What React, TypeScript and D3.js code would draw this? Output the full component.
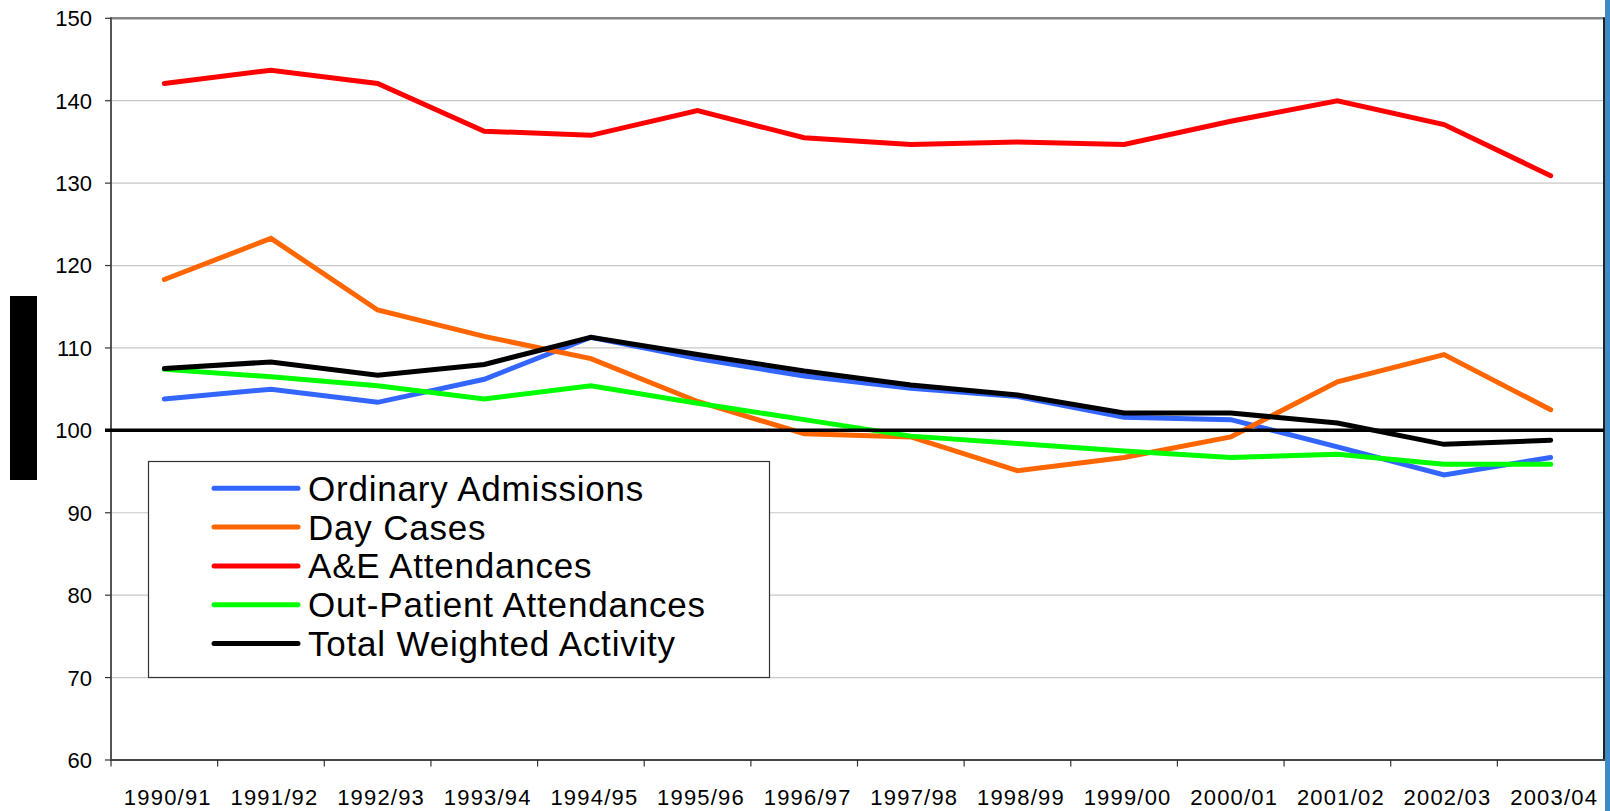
import React from "react";
import * as d3 from "d3";

const categories = ["1990/91","1991/92","1992/93","1993/94","1994/95","1995/96","1996/97","1997/98","1998/99","1999/00","2000/01","2001/02","2002/03","2003/04"];
const yTicks = [60,70,80,90,100,110,120,130,140,150];

const ordinaryAdmissions = [103.8,105.0,103.4,106.2,111.3,108.7,106.6,105.1,104.1,101.6,101.3,98.0,94.6,96.7];
const dayCases = [118.3,123.3,114.6,111.4,108.7,103.5,99.6,99.2,95.1,96.7,99.2,105.9,109.2,102.5];
const aeAttendances = [142.1,143.7,142.1,136.3,135.8,138.8,135.5,134.7,135.0,134.7,137.5,140.0,137.1,130.9];
const outPatient = [107.4,106.5,105.4,103.8,105.4,103.3,101.3,99.3,98.4,97.5,96.7,97.1,95.9,95.9];
const totalWeighted = [107.5,108.3,106.7,108.0,111.3,109.2,107.2,105.5,104.3,102.1,102.1,100.9,98.3,98.8];

const seriesNames = ["Ordinary Admissions","Day Cases","A&E Attendances","Out-Patient Attendances","Total Weighted Activity"];
const seriesColors = ["#3366FF","#FF6600","#FF0000","#00FF00","#000000"];
const seriesValues = [ordinaryAdmissions, dayCases, aeAttendances, outPatient, totalWeighted];
const drawOrder = [0,1,2,3,4];

export default function App() {
  const left = 111, right = 1604, top = 18.3, bottom = 760;
  const x = d3.scaleBand<string>().domain(categories).range([left, right]).padding(0);
  const y = d3.scaleLinear().domain([60, 150]).range([bottom, top]);
  const cx = (c: string) => (x(c) as number) + x.bandwidth() / 2;
  const line = d3.line<number>().x((_, i) => cx(categories[i])).y(v => y(v));
  const font = "'Liberation Sans', Arial, sans-serif";

  const legX = 148.5, legY = 461.5, legW = 621, legH = 216;
  const rowY0 = 488.3, rowStep = 38.8;

  return (
    <svg width={1610} height={811} style={{ position: "absolute", left: 0, top: 0, background: "#fff" }}>
      <rect x={0} y={0} width={1610} height={811} fill="#fff" />
      <rect x={10} y={296} width={27} height={184} fill="#000" />
      <rect x={1605} y={0} width={5} height={811} fill="#3d8ac9" />

      {yTicks.filter(t => t !== 60 && t !== 100 && t !== 150).map(t => (
        <line key={t} x1={left} x2={right} y1={y(t)} y2={y(t)} stroke="#c8c8c8" strokeWidth={1.2} />
      ))}
      <line x1={left} x2={right} y1={top} y2={top} stroke="#858585" strokeWidth={2.5} />
      <line x1={right} x2={right} y1={top - 1} y2={bottom} stroke="#222" strokeWidth={2} />

      <line x1={left} x2={left} y1={top - 1} y2={bottom + 1} stroke="#555" strokeWidth={2} />
      {yTicks.map(t => (
        <g key={t}>
          <line x1={105} x2={left} y1={y(t)} y2={y(t)} stroke="#333" strokeWidth={1.2} />
          <text x={92} y={y(t)} dy="0.36em" textAnchor="end" fontFamily={font} fontSize={22} fill="#000">{t}</text>
        </g>
      ))}

      <line x1={left - 1} x2={right + 1} y1={bottom} y2={bottom} stroke="#444" strokeWidth={2} />
      {categories.map((c, i) => (
        <line key={"t" + i} x1={x(c) as number} x2={x(c) as number} y1={bottom} y2={bottom + 6.5} stroke="#333" strokeWidth={1.2} />
      ))}
      {categories.map(c => (
        <text key={c} x={cx(c) + 3.5} y={805} textAnchor="middle" fontFamily={font} fontSize={22} letterSpacing={1.2} fill="#000">{c}</text>
      ))}

      {drawOrder.map(si => (
        <path key={si} d={line(seriesValues[si]) || ""} fill="none" stroke={seriesColors[si]} strokeWidth={5} strokeLinecap="round" strokeLinejoin="miter" />
      ))}

      <line x1={105} x2={right} y1={y(100)} y2={y(100)} stroke="#000" strokeWidth={3.5} />

      <rect x={legX} y={legY} width={legW} height={legH} fill="#fff" stroke="#333" strokeWidth={1.2} />
      {seriesNames.map((n, i) => (
        <g key={n}>
          <line x1={214} x2={298} y1={rowY0 + i * rowStep} y2={rowY0 + i * rowStep} stroke={seriesColors[i]} strokeWidth={5} strokeLinecap="round" />
          <text x={308} y={rowY0 + i * rowStep + 12.5} fontFamily={font} fontSize={35} letterSpacing={0.8} fill="#000">{n}</text>
        </g>
      ))}
    </svg>
  );
}
